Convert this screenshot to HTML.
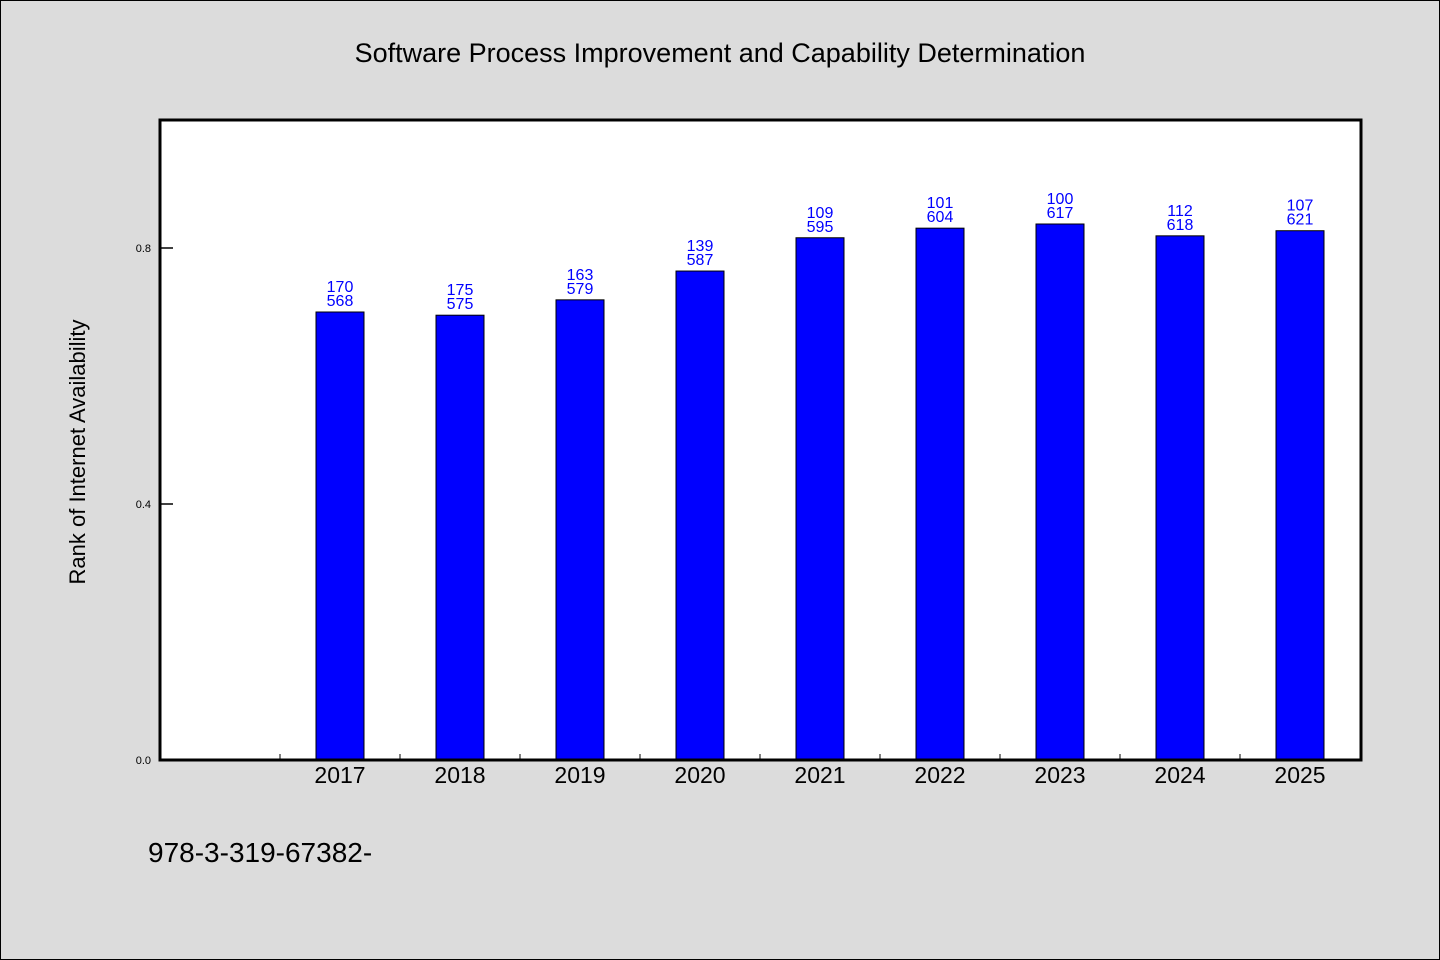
<!DOCTYPE html>
<html><head><meta charset="utf-8"><style>
html,body{margin:0;padding:0;background:#dcdcdc}
svg{display:block;font-family:"WenQuanYi Zen Hei","Liberation Sans",sans-serif}
</style></head><body>
<svg id="chart" width="1440" height="960" viewBox="0 0 1440 960">
<rect x="0.5" y="0.5" width="1439" height="959" fill="#dcdcdc" stroke="#000"/>
<text x="720" y="62" text-anchor="middle" font-size="27" fill="#000">Software Process Improvement and Capability Determination</text>
<rect x="160" y="120" width="1201" height="640" fill="#fff"/>
<g id="marks"></g>
<rect x="160" y="120" width="1201" height="640" fill="none" stroke="#000" stroke-width="3"/>
<text x="85" y="452" text-anchor="middle" font-size="22" transform="rotate(-90 85 452)">Rank of Internet Availability</text>
<text x="148" y="862" font-size="28">978-3-319-67382-</text>
</svg>
<script>
const categories=["2017","2018","2019","2020","2021","2022","2023","2024","2025"];
const values=[0.700,0.695,0.719,0.764,0.816,0.831,0.8375,0.819,0.827];
const labelTop=["170","175","163","139","109","101","100","112","107"];
const labelBottom=["568","575","579","587","595","604","617","618","621"];
const yTicks=[0.0,0.4,0.8];
const yTickLabels=["0.0","0.4","0.8"];
const NS="http://www.w3.org/2000/svg";
const g=document.getElementById('marks');
const y0=760,yMax=1.0,ph=640;
function yS(v){return y0-v/yMax*ph;}
function xS(i){return 160+120*(i+1)+60;}
function mk(t,a){const e=document.createElementNS(NS,t);for(const k in a)e.setAttribute(k,a[k]);g.appendChild(e);return e;}
yTicks.forEach((v,i)=>{
 const l=mk('line',{x1:160,x2:173,y1:yS(v),y2:yS(v),stroke:'#000','stroke-width':1.5});
 
 
 const t=mk('text',{x:151,y:yS(v)+4,'text-anchor':'end','font-size':11});
 t.textContent=yTickLabels[i];
 
 
});
for(let i=0;i<=categories.length;i++){
 const x=160+120*(i+1);
 const l=mk('line',{x1:x,x2:x,y1:760,y2:754,stroke:'#000','stroke-width':1});
 
 
}
categories.forEach((c,i)=>{
 const cx=xS(i),top=yS(values[i]);
 const r=mk('rect',{x:cx-24,y:top,width:48,height:y0-top,fill:'#0000ff',stroke:'#000','stroke-width':1});
 
 
 const t1=mk('text',{x:cx,y:top-20,'text-anchor':'middle','font-size':16,fill:'#0000ff'});
 t1.textContent=labelTop[i];
 
 
 const t2=mk('text',{x:cx,y:top-6,'text-anchor':'middle','font-size':16,fill:'#0000ff'});
 t2.textContent=labelBottom[i];
 
 
 const xl=mk('text',{x:cx,y:783,'text-anchor':'middle','font-size':23});
 xl.textContent=c;
 
 
});
</script>
</body></html>
